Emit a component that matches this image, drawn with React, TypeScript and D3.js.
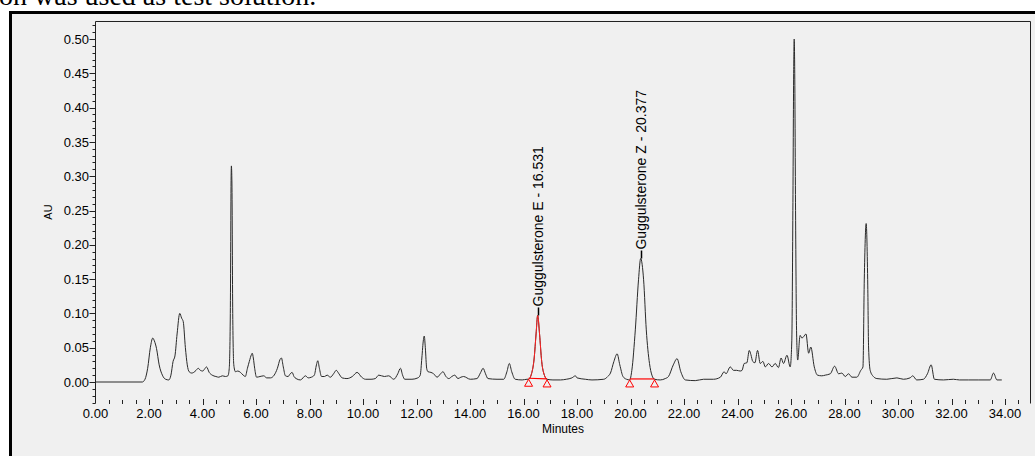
import * as d3 from "d3";

// chromatogram trace: [minutes, AU]
const trace: [number, number][] = [
  [0, 0], [1.75, 0], [1.85, 0.004], [1.95, 0.02], [2.05, 0.05], [2.14, 0.064], [2.2, 0.06],
  [2.28, 0.049], [2.38, 0.025], [2.5, 0.01], [2.62, 0.004], [2.74, 0.003], [2.82, 0.01],
  [2.9, 0.03], [2.97, 0.038], [3.05, 0.07], [3.15, 0.1], [3.22, 0.093], [3.28, 0.088],
  [3.36, 0.05], [3.43, 0.025], [3.5, 0.015], [3.6, 0.013], [3.67, 0.014], [3.76, 0.017],
  [3.84, 0.02], [3.92, 0.017], [4.01, 0.016], [4.08, 0.019], [4.15, 0.022], [4.25, 0.014],
  [4.36, 0.01], [4.5, 0.008], [4.61, 0.007], [4.74, 0.009], [4.86, 0.008], [4.95, 0.009],
  [5.0, 0.02], [5.04, 0.1], [5.07, 0.3], [5.08, 0.315], [5.1, 0.29], [5.13, 0.1], [5.17, 0.025],
  [5.23, 0.015], [5.32, 0.016], [5.42, 0.014], [5.52, 0.01], [5.6, 0.008], [5.68, 0.02],
  [5.75, 0.03], [5.83, 0.04], [5.86, 0.042], [5.9, 0.035], [5.95, 0.02], [6.02, 0.007],
  [6.15, 0.008], [6.29, 0.009], [6.4, 0.006], [6.54, 0.006], [6.68, 0.01], [6.8, 0.02],
  [6.9, 0.033], [6.95, 0.035], [7.02, 0.022], [7.1, 0.009], [7.2, 0.008], [7.28, 0.012],
  [7.35, 0.014], [7.42, 0.008], [7.5, 0.005], [7.66, 0.003], [7.85, 0.009], [7.95, 0.006],
  [8.07, 0.007], [8.18, 0.01], [8.26, 0.025], [8.31, 0.031], [8.37, 0.02], [8.45, 0.008],
  [8.56, 0.008], [8.66, 0.01], [8.78, 0.007], [8.9, 0.012], [9.0, 0.017], [9.1, 0.012],
  [9.22, 0.006], [9.4, 0.005], [9.6, 0.008], [9.78, 0.014], [9.95, 0.007], [10.09, 0.004],
  [10.3, 0.004], [10.46, 0.005], [10.59, 0.01], [10.8, 0.008], [10.96, 0.009], [11.15, 0.004],
  [11.3, 0.012], [11.4, 0.02], [11.48, 0.01], [11.56, 0.004], [11.83, 0.004], [12.05, 0.006],
  [12.14, 0.01], [12.2, 0.035], [12.26, 0.062], [12.29, 0.067], [12.33, 0.05], [12.38, 0.02],
  [12.43, 0.015], [12.54, 0.014], [12.64, 0.012], [12.77, 0.007], [12.9, 0.012], [12.99, 0.015],
  [13.1, 0.008], [13.21, 0.005], [13.32, 0.008], [13.43, 0.01], [13.55, 0.005], [13.66, 0.007],
  [13.76, 0.008], [14.01, 0.004], [14.26, 0.005], [14.4, 0.014], [14.49, 0.02], [14.58, 0.012],
  [14.67, 0.005], [15.01, 0.004], [15.26, 0.004], [15.38, 0.015], [15.47, 0.027], [15.56, 0.015],
  [15.69, 0.004], [15.95, 0.003], [16.13, 0.004], [16.19, 0.004], [16.3, 0.012], [16.4, 0.035],
  [16.47, 0.07], [16.53, 0.097], [16.6, 0.07], [16.68, 0.03], [16.78, 0.01], [16.88, 0.004],
  [17.1, 0.003], [17.38, 0.003], [17.6, 0.004], [17.81, 0.006], [17.94, 0.009], [18.0, 0.006],
  [18.31, 0.004], [18.56, 0.003], [19.0, 0.004], [19.15, 0.008], [19.25, 0.013], [19.38, 0.03],
  [19.5, 0.041], [19.6, 0.025], [19.72, 0.008], [19.85, 0.004], [19.97, 0.003], [20.05, 0.017],
  [20.18, 0.076], [20.3, 0.149], [20.38, 0.18], [20.49, 0.149], [20.59, 0.076], [20.71, 0.027],
  [20.8, 0.01], [20.9, 0.004], [21.11, 0.003], [21.3, 0.005], [21.42, 0.008], [21.6, 0.025],
  [21.74, 0.034], [21.88, 0.015], [22.05, 0.003], [22.42, 0.002], [22.73, 0.004], [23.1, 0.004],
  [23.36, 0.007], [23.5, 0.015], [23.57, 0.012], [23.73, 0.022], [23.85, 0.017], [23.97, 0.017],
  [24.1, 0.016], [24.17, 0.017], [24.25, 0.027], [24.35, 0.028], [24.44, 0.046], [24.5, 0.04],
  [24.57, 0.03], [24.65, 0.028], [24.75, 0.046], [24.85, 0.027], [24.95, 0.03], [25.04, 0.022],
  [25.16, 0.027], [25.29, 0.022], [25.41, 0.027], [25.53, 0.021], [25.63, 0.035], [25.72, 0.027],
  [25.85, 0.039], [25.97, 0.022], [26.03, 0.06], [26.07, 0.25], [26.1, 0.45], [26.12, 0.5],
  [26.14, 0.45], [26.17, 0.25], [26.21, 0.07], [26.25, 0.032], [26.34, 0.068], [26.41, 0.064],
  [26.47, 0.066], [26.56, 0.07], [26.66, 0.042], [26.74, 0.051], [26.87, 0.022], [26.99, 0.01],
  [27.15, 0.009], [27.28, 0.01], [27.47, 0.012], [27.63, 0.023], [27.78, 0.012], [27.9, 0.013],
  [28.03, 0.008], [28.15, 0.012], [28.28, 0.007], [28.46, 0.007], [28.61, 0.017], [28.69, 0.022],
  [28.74, 0.15], [28.81, 0.231], [28.87, 0.14], [28.9, 0.051], [28.96, 0.017], [29.08, 0.008],
  [29.21, 0.005], [29.58, 0.004], [29.96, 0.006], [30.2, 0.004], [30.45, 0.006], [30.55, 0.009],
  [30.7, 0.003], [30.95, 0.004], [31.1, 0.012], [31.24, 0.025], [31.36, 0.004], [31.7, 0.003],
  [32.07, 0.004], [32.3, 0.003], [32.63, 0.003], [33.0, 0.003], [33.45, 0.003], [33.57, 0.013],
  [33.7, 0.003], [33.88, 0.003],
];

// integrated peaks
const peakNames = ["Guggulsterone E", "Guggulsterone Z"];
const peakRT = [16.531, 20.377];
const peakHeight = [0.097, 0.18];
const peakStart: [number, number][] = [[16.19, 0.004], [19.97, 0.003]];
const peakEnd: [number, number][] = [[16.88, 0.003], [20.9, 0.003]];
const peakRed = [true, false]; // E peak trace drawn red

const yMajor = [0, 0.05, 0.1, 0.15, 0.2, 0.25, 0.3, 0.35, 0.4, 0.45, 0.5];
const xMajor = [0, 2, 4, 6, 8, 10, 12, 14, 16, 18, 20, 22, 24, 26, 28, 30, 32, 34];

const W = 1035;
const H = 456;
const frame = { left: 95.5, right: 1030.5, top: 21.5, bottom: 403.5 };
const font = "'Liberation Sans', Arial, sans-serif";

export default function App() {
  const x = d3.scaleLinear([0, 34], [95.5, 1005]);
  const y = d3.scaleLinear([0, 0.5], [382, 39]);

  const line = d3
    .line<[number, number]>()
    .x((d) => x(d[0]))
    .y((d) => y(d[1]))
    .curve(d3.curveMonotoneX);

  const yMinor = d3.range(-3, 53).map((i) => i / 100).filter((v) => y(v) > frame.top && y(v) < frame.bottom);
  const xMinor = d3.range(1, 70).map((i) => i / 2).filter((t) => t % 2 !== 0);
  const px = (v: number) => Math.round(v) + 0.5;

  const tri = (cx: number, cy: number) =>
    `M${cx},${cy} L${cx - 4},${cy + 7} L${cx + 4},${cy + 7} Z`;

  return (
    <svg width={W} height={H} style={{ position: "absolute", left: 0, top: 0 }}>
      <rect x={0} y={0} width={W} height={H} fill="#ffffff" />
      <text x={-1} y={5} fontFamily="'Liberation Serif', 'Times New Roman', serif" fontSize={28} fill="#000">
        on was used as test solution.
      </text>
      {/* outer box */}
      <rect x={10.5} y={12.5} width={1040} height={460} fill="#f0f0f0" stroke="#000" strokeWidth={3} />

      {/* plot frame (no bottom line) */}
      <path
        d={`M${frame.left},${frame.bottom} V${frame.top} H${frame.right} V${frame.bottom}`}
        fill="none"
        stroke="#222"
        strokeWidth={1}
      />

      {/* y ticks */}
      {yMinor.map((v) => (
        <line key={"ym" + v} x1={frame.left - 3} x2={frame.left} y1={px(y(v))} y2={px(y(v))} stroke="#222" />
      ))}
      {yMajor.map((v) => (
        <g key={"y" + v}>
          <line x1={frame.left - 6} x2={frame.left} y1={px(y(v))} y2={px(y(v))} stroke="#222" />
          <text
            x={89}
            y={y(v)}
            dy="0.36em"
            textAnchor="end"
            fontFamily={font}
            fontSize={13}
            fill="#000"
          >
            {v.toFixed(2)}
          </text>
        </g>
      ))}
      <text
        transform={`translate(52,212) rotate(-90)`}
        textAnchor="middle"
        fontFamily={font}
        fontSize={11}
        fill="#000"
      >
        AU
      </text>

      {/* x ticks */}
      {xMinor.map((t) => (
        <line key={"xm" + t} x1={px(x(t))} x2={px(x(t))} y1={400} y2={404} stroke="#222" />
      ))}
      {xMajor.map((t) => (
        <g key={"x" + t}>
          {t > 0 && <line x1={px(x(t))} x2={px(x(t))} y1={399} y2={405} stroke="#222" />}
          <text x={x(t)} y={417.5} textAnchor="middle" fontFamily={font} fontSize={13} fill="#000">
            {t.toFixed(2)}
          </text>
        </g>
      ))}
      <text x={563} y={433} textAnchor="middle" fontFamily={font} fontSize={12} fill="#000">
        Minutes
      </text>

      {/* trace */}
      <path d={line(trace) ?? ""} fill="none" stroke="#2a2a2a" strokeWidth={1} />

      {/* integration marks and labels */}
      {peakNames.map((name, i) => {
        const seg = trace.filter((d) => d[0] >= peakStart[i][0] && d[0] <= peakEnd[i][0]);
        const sx = x(peakStart[i][0]);
        const sy = y(peakStart[i][1]);
        const ex = x(peakEnd[i][0]);
        const ey = y(peakEnd[i][1]);
        const ax = x(peakRT[i]);
        const ay = y(peakHeight[i]);
        return (
          <g key={name}>
            {peakRed[i] && <path d={line(seg) ?? ""} fill="none" stroke="#ff2020" strokeWidth={1} />}
            <line x1={sx} y1={sy - 1} x2={ex} y2={ey - 1} stroke="#ff0000" strokeWidth={1.2} />
            <path d={tri(sx, sy)} fill="none" stroke="#ff0000" strokeWidth={1} />
            <path d={tri(ex, ey)} fill="none" stroke="#ff0000" strokeWidth={1} />
            <line x1={px(ax)} x2={px(ax)} y1={ay} y2={ay - 8} stroke="#000" strokeWidth={1.5} />
            <text
              transform={`translate(${ax},${ay - 9}) rotate(-90)`}
              dy="0.36em"
              textAnchor="start"
              fontFamily={font}
              fontSize={14}
              fill="#000"
            >
              {`${name} - ${peakRT[i].toFixed(3)}`}
            </text>
          </g>
        );
      })}
    </svg>
  );
}
